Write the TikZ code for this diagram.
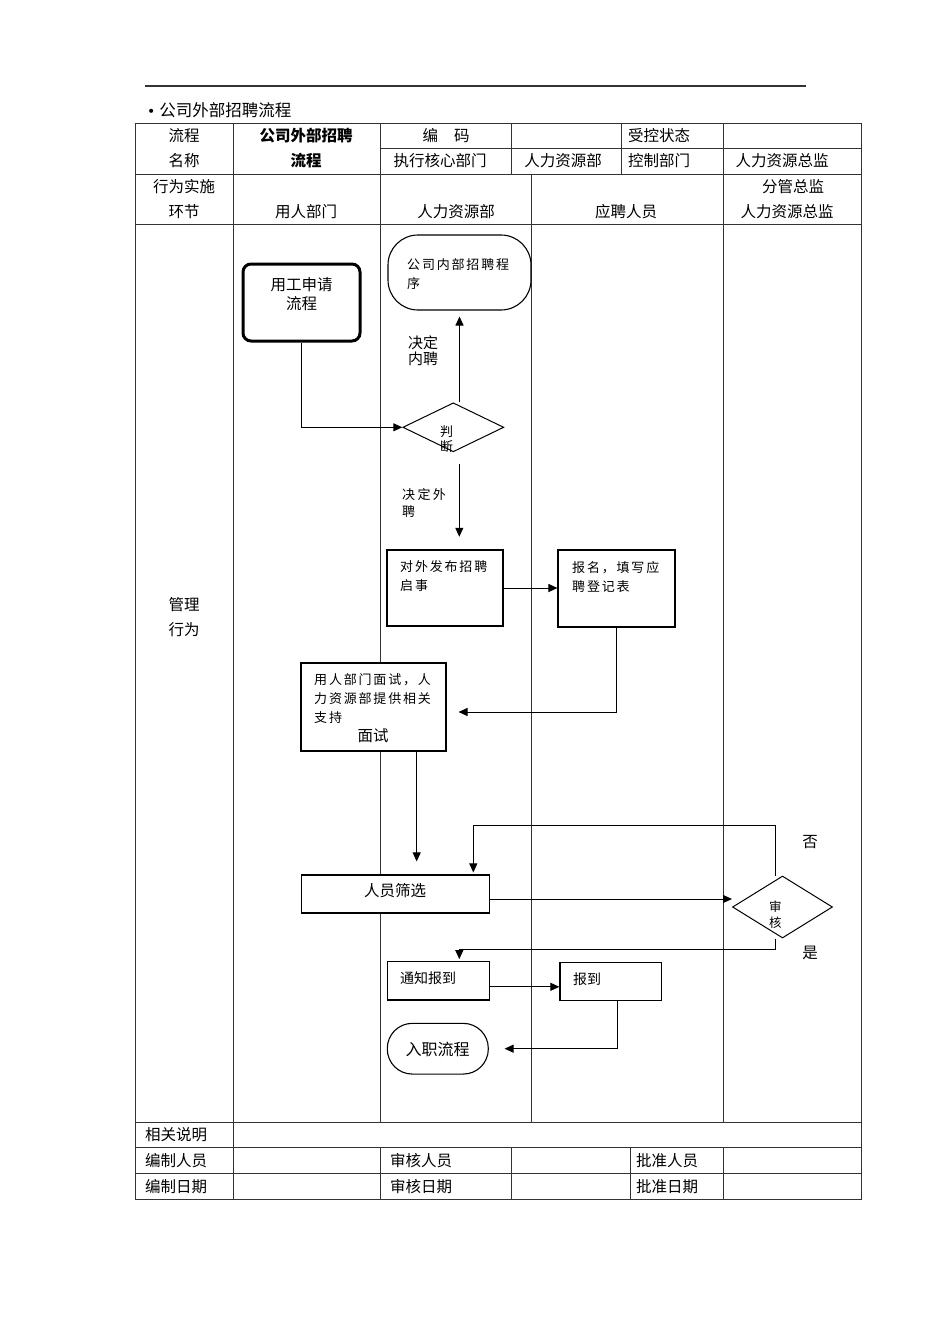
\documentclass[tikz,border=0pt]{standalone}
\usepackage{fontspec}
\setmainfont{Noto Sans CJK SC}
\newfontfamily\dvfont{DejaVu Sans}
\usetikzlibrary{arrows.meta,shapes.geometric}
\begin{document}
\begin{tikzpicture}[x=1pt,y=-1pt,
  tl/.style={draw=black!80,line width=1pt},
  tt/.style={font=\fontsize{15.5}{18}\selectfont,inner sep=0pt},
  tb/.style={font=\fontsize{15.5}{18}\selectfont\bfseries,inner sep=0pt},
  st/.style={font=\fontsize{13}{19}\selectfont\addfontfeature{LetterSpace=14},inner sep=0pt,align=left,anchor=west},
  mt/.style={font=\fontsize{15.5}{19}\selectfont,inner sep=0pt,align=center},
  box/.style={draw,fill=white,line width=1.1pt,inner sep=0pt},
  dia/.style={draw,fill=white,diamond,line width=1pt,inner sep=0pt},
  arr/.style={-{Triangle[length=9pt,width=8pt]},line width=1pt}]
\fill[white] (0,0) rectangle (950,1344);
\useasboundingbox (0,0) rectangle (950,1344);
% top rule and title
\draw[line width=1.3pt,black!80] (145,86) -- (806,86);
\node[inner sep=0pt,anchor=west,font=\fontsize{16.5}{18}\selectfont] (title) at (147,110) {{\dvfont\fontsize{14}{16}\selectfont •}\hspace{4pt}公司外部招聘流程};
% table frame
\draw[tl] (135,123) rectangle (861,1199);
\draw[tl] (380,148) -- (861,148);
\draw[tl] (135,174) -- (861,174);
\draw[tl] (135,224) -- (861,224);
\draw[tl] (135,1122) -- (861,1122);
\draw[tl] (135,1147) -- (861,1147);
\draw[tl] (135,1173) -- (861,1173);
\draw[tl] (233,123) -- (233,1199);
\draw[tl] (380,123) -- (380,1122);
\draw[tl] (380,1147) -- (380,1199);
\draw[tl] (511,123) -- (511,174);
\draw[tl] (511,1147) -- (511,1199);
\draw[tl] (621,123) -- (621,174);
\draw[tl] (630,1147) -- (630,1199);
\draw[tl] (531,174) -- (531,1122);
\draw[tl] (723,123) -- (723,1122);
\draw[tl] (723,1147) -- (723,1199);
% header texts
\node[tt] (h1) at (184,136) {流程};
\node[tb] (h2) at (306,136) {公司外部招聘};
\node[tt] (h3) at (446,136) {编\hspace{16pt}码};
\node[tt] (h4) at (659,136) {受控状态};
\node[tt] (h5) at (184,161) {名称};
\node[tb] (h6) at (306,161) {流程};
\node[tt] (h7) at (440,161) {执行核心部门};
\node[tt] (h8) at (563,161) {人力资源部};
\node[tt] (h9) at (659,161) {控制部门};
\node[tt] (h10) at (782,161) {人力资源总监};
\node[tt] (h11) at (184,187) {行为实施};
\node[tt] (h12) at (184,212) {环节};
\node[tt] (h13) at (306,212) {用人部门};
\node[tt] (h14) at (456,212) {人力资源部};
\node[tt] (h15) at (626,212) {应聘人员};
\node[tt] (h16) at (793,187) {分管总监};
\node[tt] (h17) at (787,212) {人力资源总监};
\node[tt] (h18) at (184,605) {管理};
\node[tt] (h19) at (184,630) {行为};
% footer texts
\node[tt,anchor=west] (f1) at (145,1135) {相关说明};
\node[tt,anchor=west] (f2) at (145,1161) {编制人员};
\node[tt,anchor=west] (f3) at (390,1161) {审核人员};
\node[tt,anchor=west] (f4) at (636,1161) {批准人员};
\node[tt,anchor=west] (f5) at (145,1187) {编制日期};
\node[tt,anchor=west] (f6) at (390,1187) {审核日期};
\node[tt,anchor=west] (f7) at (636,1187) {批准日期};
% flow nodes
\node[box,line width=3pt,rounded corners=8pt,minimum width=117pt,minimum height=77pt] (apply) at (301.5,302.5) {};
\node[mt] (applyt) at (301.5,294.5) {用工申请\\流程};
\node[box,rounded corners=30pt,minimum width=143pt,minimum height=75pt] (internal) at (459.5,272.5) {};
\node[st] (internalt) at (407,274) {公司内部招聘程\\序};
\node[dia,minimum width=101pt,minimum height=49pt] (judge) at (453.3,427.3) {};
\node[font=\fontsize{13}{15}\selectfont,inner sep=0pt,align=center] (judget) at (446.7,439) {判\\断};
\node[font=\fontsize{15}{15.5}\selectfont,inner sep=0pt,align=left,anchor=west] (lblin) at (408,350.8) {决定\\内聘};
\node[st,font=\fontsize{13}{17}\selectfont\addfontfeature{LetterSpace=18}] (lblout) at (402,503.3) {决定外\\聘};
\node[box,minimum width=116pt,minimum height=76pt] (pub) at (445,588) {};
\node[st] (pubt) at (400,576.5) {对外发布招聘\\启事};
\node[box,minimum width=117pt,minimum height=77pt] (reg) at (616.5,588.5) {};
\node[st] (regt) at (572,577) {报名，填写应\\聘登记表};
\node[box,minimum width=145pt,minimum height=88pt] (interview) at (373.5,707) {};
\node[st] (intt) at (314,699) {用人部门面试，人\\力资源部提供相关\\支持};
\node[tt] (intt2) at (373,736) {面试};
\node[box,minimum width=188pt,minimum height=38pt] (screen) at (395.5,894) {};
\node[tt] (screent) at (395,891) {人员筛选};
\node[dia,minimum width=100pt,minimum height=62pt] (audit) at (782.5,907) {};
\node[font=\fontsize{12.5}{16}\selectfont,inner sep=0pt,align=center] (auditt) at (775.3,915) {审\\核};
\node[tt] (no) at (810,842) {否};
\node[tt] (yes) at (810,953) {是};
\node[box,minimum width=102pt,minimum height=38.3pt] (notify) at (438.3,980.8) {};
\node[tt,font=\fontsize{14}{16}\selectfont,anchor=west] (notifyt) at (400,978) {通知报到};
\node[box,minimum width=101.7pt,minimum height=38.3pt] (report) at (610.8,981.5) {};
\node[tt,font=\fontsize{14}{16}\selectfont,anchor=west] (reportt) at (573,979.3) {报到};
\node[box,rounded corners=25pt,minimum width=101pt,minimum height=50.7pt] (onboard) at (437.8,1048.7) {};
\node[tt,font=\fontsize{16}{18}\selectfont] (onboardt) at (437.7,1049) {入职流程};
% connectors
\draw[arr] (apply.south) |- (judge.west);
\draw[arr,shorten >=6pt] (internal.south |- judge.north) -- (internal.south);
\coordinate (jd) at (459.3,464);
\draw[arr,shorten >=12.7pt] (jd) -- (jd |- pub.north);
\draw[arr] (pub.east) -- (pub.east -| reg.west);
\coordinate (ie) at ([yshift=-5pt]interview.east);
\draw[arr,shorten >=12pt] (reg.south) |- (ie);
\draw[arr,shorten >=13pt] ([xshift=43.2pt]interview.south) -- ([xshift=43.2pt]interview.south |- screen.north);
\draw[arr] ([yshift=-5pt]screen.east) -- ([yshift=-5pt]screen.east -| audit.west);
\coordinate (lp) at (473.3,825);
\draw[arr,shorten >=2pt] ([xshift=-7.2pt]audit.north) |- (lp) -- (lp |- screen.north);
\coordinate (yb) at (459.3,949);
\draw[arr,shorten >=2pt] ([xshift=-7.2pt]audit.south) |- (yb) -- (yb |- notify.north);
\draw[arr] ([yshift=-6pt]notify.east) -- ([yshift=-6pt]notify.east -| report.west);
\draw[arr,shorten >=15.7pt] ([xshift=6.5pt]report.south) |- (onboard.east);
\end{tikzpicture}
\end{document}
